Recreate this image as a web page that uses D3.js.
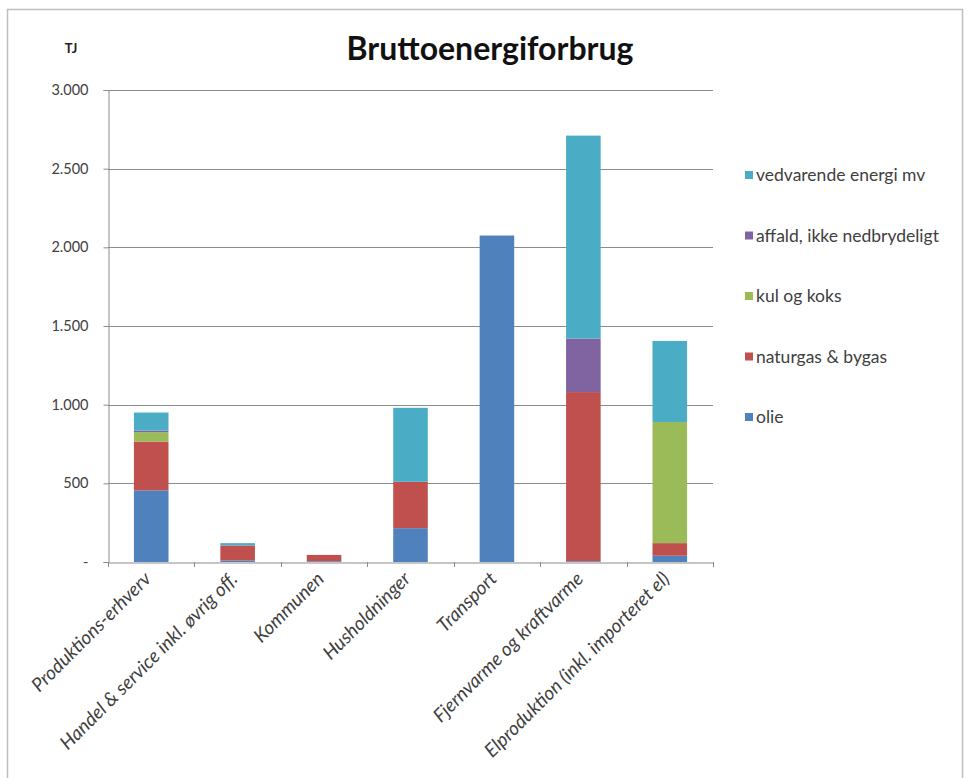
<!DOCTYPE html>
<html>
<head>
<meta charset="utf-8">
<script src="https://cdn.jsdelivr.net/npm/d3@7"></script>
<style>
  body { margin: 0; background: #fff; }
  svg { display: block; }
</style>
</head>
<body>
<svg id="chart" width="969" height="778"></svg>
<script>
const categories = [
  "Produktions-erhverv",
  "Handel & service inkl. øvrig off.",
  "Kommunen",
  "Husholdninger",
  "Transport",
  "Fjernvarme og kraftvarme",
  "Elproduktion (inkl. importeret el)"
];
const seriesNames = ["olie", "naturgas & bygas", "kul og koks", "affald, ikke nedbrydeligt", "vedvarende energi mv"];
const olie        = [455, 10, 5, 215, 2075, 5, 40];
const naturgas    = [310, 95, 40, 295, 0, 1075, 80];
const kulKoks     = [60, 0, 0, 0, 0, 0, 770];
const affald      = [10, 0, 0, 0, 0, 340, 0];
const vedvarende  = [115, 15, 0, 470, 0, 1290, 515];
const yTicks = [0, 500, 1000, 1500, 2000, 2500, 3000];
const colors = ["#4F81BD", "#C0504D", "#9BBB59", "#8064A2", "#4BACC6"];

(function () {
const seriesValues = [olie, naturgas, kulKoks, affald, vedvarende];
const table = categories.map((c, i) => {
  const row = { cat: c };
  seriesNames.forEach((s, j) => row[s] = seriesValues[j][i]);
  return row;
});
const stacked = d3.stack().keys(seriesNames)(table);

const svg = d3.select("#chart");
const font = "Lato, 'Open Sans', sans-serif";

// frame
svg.append("rect").attr("x", 7.5).attr("y", 9.5).attr("width", 955).attr("height", 800)
  .attr("fill", "#fff").attr("stroke", "#bdbdbd").attr("stroke-width", 1.5);

const pLeft = 108, pRight = 713, pTop = 90, pBottom = 562;
const x = d3.scaleBand().domain(categories).range([pLeft, pRight]).padding(0);
const y = d3.scaleLinear().domain([0, 3000]).range([pBottom, pTop]);
const barW = x.bandwidth() * 0.4;

// gridlines
svg.append("g").selectAll("line").data(yTicks.filter(d => d > 0)).join("line")
  .attr("x1", pLeft).attr("x2", pRight)
  .attr("y1", d => Math.round(y(d)) + 0.5).attr("y2", d => Math.round(y(d)) + 0.5)
  .attr("stroke", "#8c8c8c").attr("stroke-width", 1);

// y axis
const yAxis = d3.axisLeft(y).tickValues(yTicks).tickSize(5).tickPadding(15)
  .tickFormat(d => d === 0 ? "-" : d3.format(",")(d).replace(/,/g, "."));
const gy = svg.append("g").attr("transform", `translate(${pLeft + 0.5},0)`).call(yAxis);
gy.select(".domain").attr("stroke", "#8c8c8c");
gy.selectAll(".tick line").attr("stroke", "#8c8c8c");
gy.selectAll(".tick text").attr("font-family", font).attr("font-size", 14.5).attr("fill", "#404040");

// bars
svg.append("g").selectAll("g").data(stacked).join("g")
  .attr("fill", (d, i) => colors[i])
  .selectAll("rect").data(d => d).join("rect")
  .attr("x", d => x(d.data.cat) + (x.bandwidth() - barW) / 2)
  .attr("y", d => y(d[1]))
  .attr("width", barW)
  .attr("height", d => Math.max(0, y(d[0]) - y(d[1])));

// x axis
const xAxis = d3.axisBottom(x).tickSize(0).tickFormat("");
const gx = svg.append("g").attr("transform", `translate(0,${pBottom + 0.5})`).call(xAxis);
gx.select(".domain").attr("stroke", "#8c8c8c");
const bounds = categories.map(c => x(c)).concat([pRight]);
svg.append("g").selectAll("line").data(bounds).join("line")
  .attr("x1", d => Math.round(d) + 0.5).attr("x2", d => Math.round(d) + 0.5)
  .attr("y1", pBottom).attr("y2", pBottom + 5)
  .attr("stroke", "#8c8c8c");

// x labels
svg.append("g").selectAll("text").data(categories).join("text")
  .attr("transform", d => `translate(${x(d) + x.bandwidth() / 2 + 1},${pBottom + 18}) rotate(-45)`)
  .attr("text-anchor", "end")
  .attr("font-family", font).attr("font-size", 19).attr("font-style", "italic")
  .attr("fill", "#404040")
  .text(d => d);

// title
svg.append("text").attr("x", 490).attr("y", 60).attr("text-anchor", "middle")
  .attr("font-family", font).attr("font-weight", "bold").attr("font-size", 32)
  .attr("fill", "#111").text("Bruttoenergiforbrug");

// unit
svg.append("text").attr("x", 71).attr("y", 53).attr("text-anchor", "middle")
  .attr("font-family", font).attr("font-weight", "bold").attr("font-size", 13)
  .attr("fill", "#222").text("TJ");

// legend (reverse order)
const legendItems = seriesNames.map((s, i) => ({ s, c: colors[i] })).reverse();
const lg = svg.append("g").selectAll("g").data(legendItems).join("g")
  .attr("transform", (d, i) => `translate(745,${175 + i * 60.5})`);
lg.append("rect").attr("x", 0).attr("y", -4).attr("width", 8).attr("height", 8).attr("fill", d => d.c);
lg.append("text").attr("x", 11).attr("y", 6).attr("font-family", font).attr("font-size", 17.5)
  .attr("fill", "#404040").text(d => d.s);
})();
</script>
</body>
</html>
